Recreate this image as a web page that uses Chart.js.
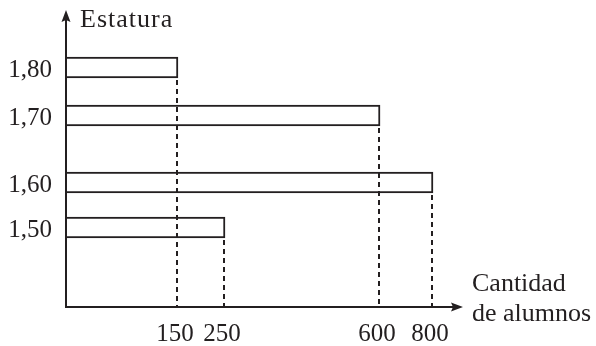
<!DOCTYPE html>
<html>
<head>
<script src="https://cdn.jsdelivr.net/npm/chart.js@4.4.0/dist/chart.umd.min.js"></script>
<style>
  body { margin: 0; background: #fff; }
  #wrap { width: 596px; height: 346px; }
</style>
</head>
<body>
<div id="wrap"><canvas id="chart"></canvas></div>
<script>
// data
const heights = [1.80, 1.70, 1.60, 1.50];
const heightLabels = ['1,80', '1,70', '1,60', '1,50'];
const students = [150, 600, 800, 250];
const studentTicks = [150, 250, 600, 800];

const ink = '#231f20';
const serif = '"Liberation Serif", "Times New Roman", serif';

// the drawing is a sketch, not to scale: each axis follows
// hand placed stops [value, fraction of the axis length]
class SketchScale extends Chart.LinearScale {
  getPixelForValue(value) {
    const s = this.options.stops;
    let i = 1;
    while (i < s.length - 1 && value > s[i][0]) i++;
    const [v0, f0] = s[i - 1], [v1, f1] = s[i];
    return this.getPixelForDecimal(f0 + (value - v0) / (v1 - v0) * (f1 - f0));
  }
  getValueForPixel(pixel) {
    const d = this.getDecimalForPixel(pixel);
    const s = this.options.stops;
    let i = 1;
    while (i < s.length - 1 && d > s[i][1]) i++;
    const [v0, f0] = s[i - 1], [v1, f1] = s[i];
    return v0 + (d - f0) / (f1 - f0) * (v1 - v0);
  }
}
SketchScale.id = 'sketch';
SketchScale.defaults = {};
Chart.register(SketchScale);

// axes with arrows, dashed drop lines and the axis titles
const sketchPlugin = {
  id: 'sketch',
  afterDatasetsDraw(chart) {
    const ctx = chart.ctx;
    const a = chart.chartArea;
    const x0 = a.left, y0 = a.bottom;
    ctx.save();
    ctx.strokeStyle = ink;
    ctx.fillStyle = ink;

    // dashed lines from the bar ends down to the x axis
    ctx.lineWidth = 2;
    ctx.setLineDash([5, 4]);
    chart.getDatasetMeta(0).data.forEach(bar => {
      const p = bar.getProps(['x', 'y', 'height'], true);
      const x = Math.round(p.x) - 1;
      ctx.beginPath();
      ctx.moveTo(x, p.y + p.height / 2 + 2);
      ctx.lineTo(x, y0);
      ctx.stroke();
    });
    ctx.setLineDash([]);

    // axes
    ctx.lineWidth = 2;
    ctx.beginPath();
    ctx.moveTo(x0, y0 + 1);
    ctx.lineTo(x0, a.top + 8);
    ctx.moveTo(x0 - 1, y0);
    ctx.lineTo(a.right - 8, y0);
    ctx.stroke();

    // arrow heads
    ctx.beginPath();
    ctx.moveTo(x0, a.top);
    ctx.lineTo(x0 + 4.5, a.top + 12);
    ctx.lineTo(x0, a.top + 10);
    ctx.lineTo(x0 - 4.5, a.top + 12);
    ctx.closePath();
    ctx.fill();
    ctx.beginPath();
    ctx.moveTo(a.right, y0);
    ctx.lineTo(a.right - 12, y0 - 4.5);
    ctx.lineTo(a.right - 10, y0);
    ctx.lineTo(a.right - 12, y0 + 4.5);
    ctx.closePath();
    ctx.fill();

    // titles
    ctx.font = '26px ' + serif;
    ctx.textAlign = 'left';
    ctx.textBaseline = 'alphabetic';
    ctx.letterSpacing = '1px';
    ctx.fillText('Estatura', x0 + 14, a.top + 17);
    ctx.letterSpacing = '0px';
    ctx.fillText('Cantidad', a.right + 9, y0 - 16);
    ctx.fillText('de alumnos', a.right + 9, y0 + 14);
    ctx.restore();
  }
};

new Chart(document.getElementById('chart'), {
  type: 'bar',
  data: {
    datasets: [{
      data: heights.map((h, i) => ({ x: students[i], y: h })),
      backgroundColor: '#ffffff',
      borderColor: ink,
      borderWidth: 2,
      barThickness: 21
    }]
  },
  options: {
    indexAxis: 'y',
    responsive: true,
    maintainAspectRatio: false,
    animation: false,
    layout: { padding: { top: 10, right: 133, left: 0, bottom: 0 } },
    plugins: { legend: { display: false }, tooltip: { enabled: false } },
    scales: {
      x: {
        type: 'sketch',
        min: 0,
        max: 1000,
        stops: [[0, 0], [150, 0.282], [250, 0.4005], [600, 0.791], [800, 0.9244], [1000, 1]],
        grid: { display: false, drawTicks: false },
        border: { display: false },
        afterFit(scale) {
          scale.height = 39;
          scale.paddingLeft = 0;
          scale.paddingRight = 0;
        },
        afterBuildTicks(scale) { scale.ticks = studentTicks.map(v => ({ value: v })); },
        ticks: {
          autoSkip: false,
          maxRotation: 0,
          padding: 12,
          labelOffset: -3,
          color: ink,
          font: { family: serif, size: 25 },
          callback: v => String(v)
        }
      },
      y: {
        type: 'sketch',
        min: 1.4,
        max: 1.9,
        stops: [[1.4, 0], [1.5, 0.2677], [1.6, 0.4192], [1.7, 0.6448], [1.8, 0.8064], [1.9, 1]],
        grid: { display: false, drawTicks: false },
        border: { display: false },
        afterFit(scale) {
          scale.width = 66;
          scale.paddingTop = 0;
          scale.paddingBottom = 0;
        },
        afterBuildTicks(scale) { scale.ticks = heights.map(v => ({ value: v })); },
        ticks: {
          autoSkip: false,
          padding: 14,
          labelOffset: 3,
          color: ink,
          font: { family: serif, size: 25 },
          callback: v => heightLabels[heights.indexOf(v)]
        }
      }
    }
  },
  plugins: [sketchPlugin]
});
</script>
</body>
</html>
